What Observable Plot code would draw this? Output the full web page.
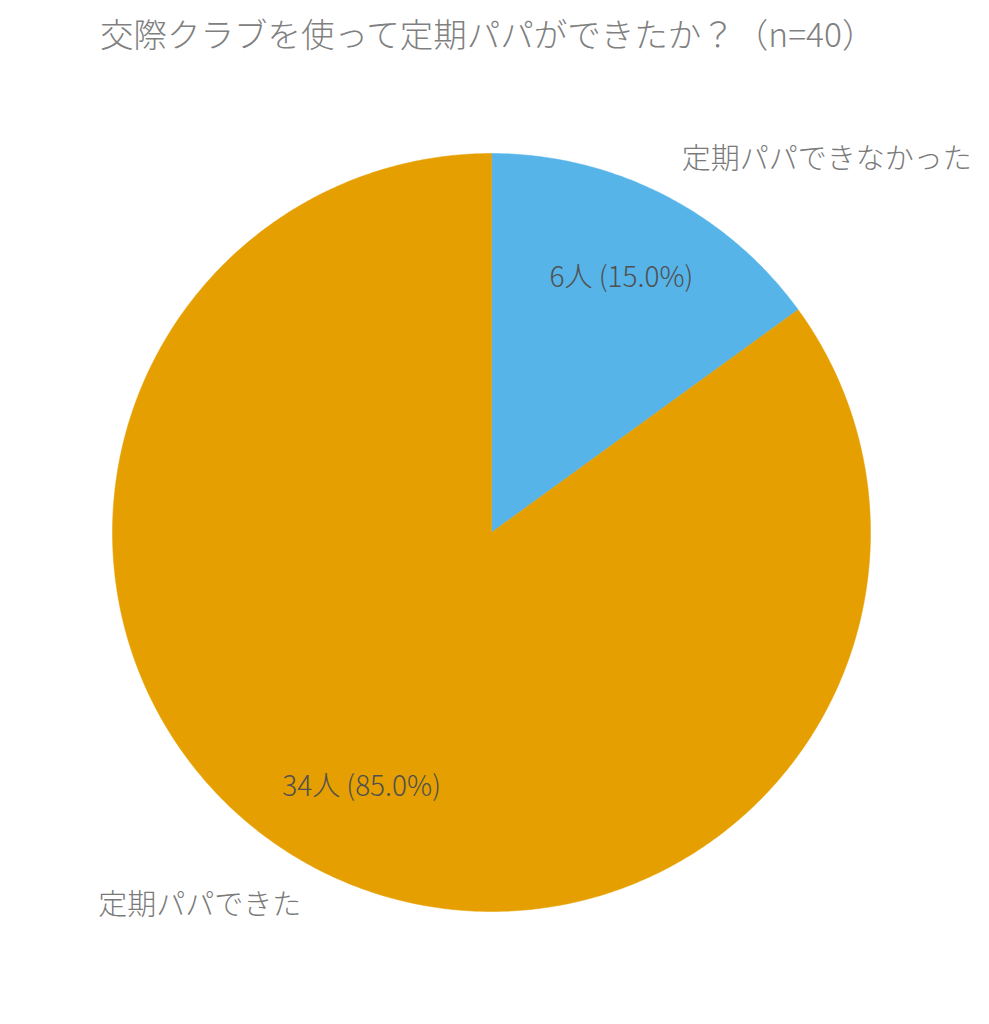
<!DOCTYPE html>
<html>
<head>
<meta charset="utf-8">
<script src="https://cdn.jsdelivr.net/npm/d3@7"></script>
<script src="https://cdn.jsdelivr.net/npm/@observablehq/plot@0.6"></script>
<style>
  html, body { margin: 0; padding: 0; background: #ffffff; }
  #title {
    height: 70px; box-sizing: border-box; padding: 16px 0 0 100px;
    font-family: "Noto Sans CJK JP", "Noto Sans", sans-serif; font-weight: 300;
    font-size: 33.5px; line-height: 1; color: #808080; white-space: nowrap;
  }
  #chart svg { display: block; }
</style>
</head>
<body>
<div id="title">交際クラブを使って定期パパができたか？（n=40）</div>
<div id="chart"></div>
<script>
const categories = ["定期パパできなかった", "定期パパできた"];
const counts = [6, 34];
const colors = ["#56B4E9", "#E69F00"];

const total = d3.sum(counts);
const arcs = d3.pie().sort(null).startAngle(0).endAngle(2 * Math.PI)(counts);

// Slice outlines (unit circle coordinates) derived from the pie layout
const slices = arcs.map((a, i) => {
  const n = Math.max(2, Math.ceil((a.endAngle - a.startAngle) / (Math.PI / 360)));
  const pts = [{x: 0, y: 0}];
  for (let k = 0; k <= n; ++k) {
    const t = a.startAngle + (a.endAngle - a.startAngle) * k / n;
    pts.push({x: Math.sin(t), y: Math.cos(t)});
  }
  pts.push({x: 0, y: 0});
  return pts;
});

const valueLabels = arcs.map((a, i) => {
  const m = (a.startAngle + a.endAngle) / 2;
  return {x: 0.755 * Math.sin(m), y: 0.755 * Math.cos(m),
          text: `${counts[i]}人 (${(counts[i] / total * 100).toFixed(1)}%)`};
});
const catLabels = arcs.map((a, i) => {
  const m = (a.startAngle + a.endAngle) / 2;
  return {x: 1.105 * Math.sin(m), y: 1.105 * Math.cos(m), text: categories[i],
          anchor: Math.sin(m) >= 0 ? "start" : "end"};
});

const W = 989, H = 954, cx = 491, cy = 462, R = 379;
const font = "'Noto Sans CJK JP', 'Noto Sans', sans-serif";

const plot = Plot.plot({
  width: W, height: H,
  margin: 0,
  x: {domain: [-1, 1], range: [cx - R, cx + R], axis: null},
  y: {domain: [-1, 1], range: [cy + R, cy - R], axis: null},
  style: {fontFamily: font, background: "#ffffff"},
  marks: [
    ...slices.map((s, i) => Plot.line(s, {x: "x", y: "y", fill: colors[i], stroke: colors[i], strokeWidth: 0.5})),
    Plot.text(valueLabels, {x: "x", y: "y", text: "text", fontSize: 28, fontWeight: 300, fill: "#505050"}),
    Plot.text(catLabels.filter(d => d.anchor === "start"), {x: "x", y: "y", text: "text", fontSize: 29, fontWeight: 300, fill: "#7a7a7a", textAnchor: "start"}),
    Plot.text(catLabels.filter(d => d.anchor === "end"), {x: "x", y: "y", text: "text", fontSize: 29, fontWeight: 300, fill: "#7a7a7a", textAnchor: "end"})
  ]
});
document.getElementById("chart").appendChild(plot);
</script>
</body>
</html>
